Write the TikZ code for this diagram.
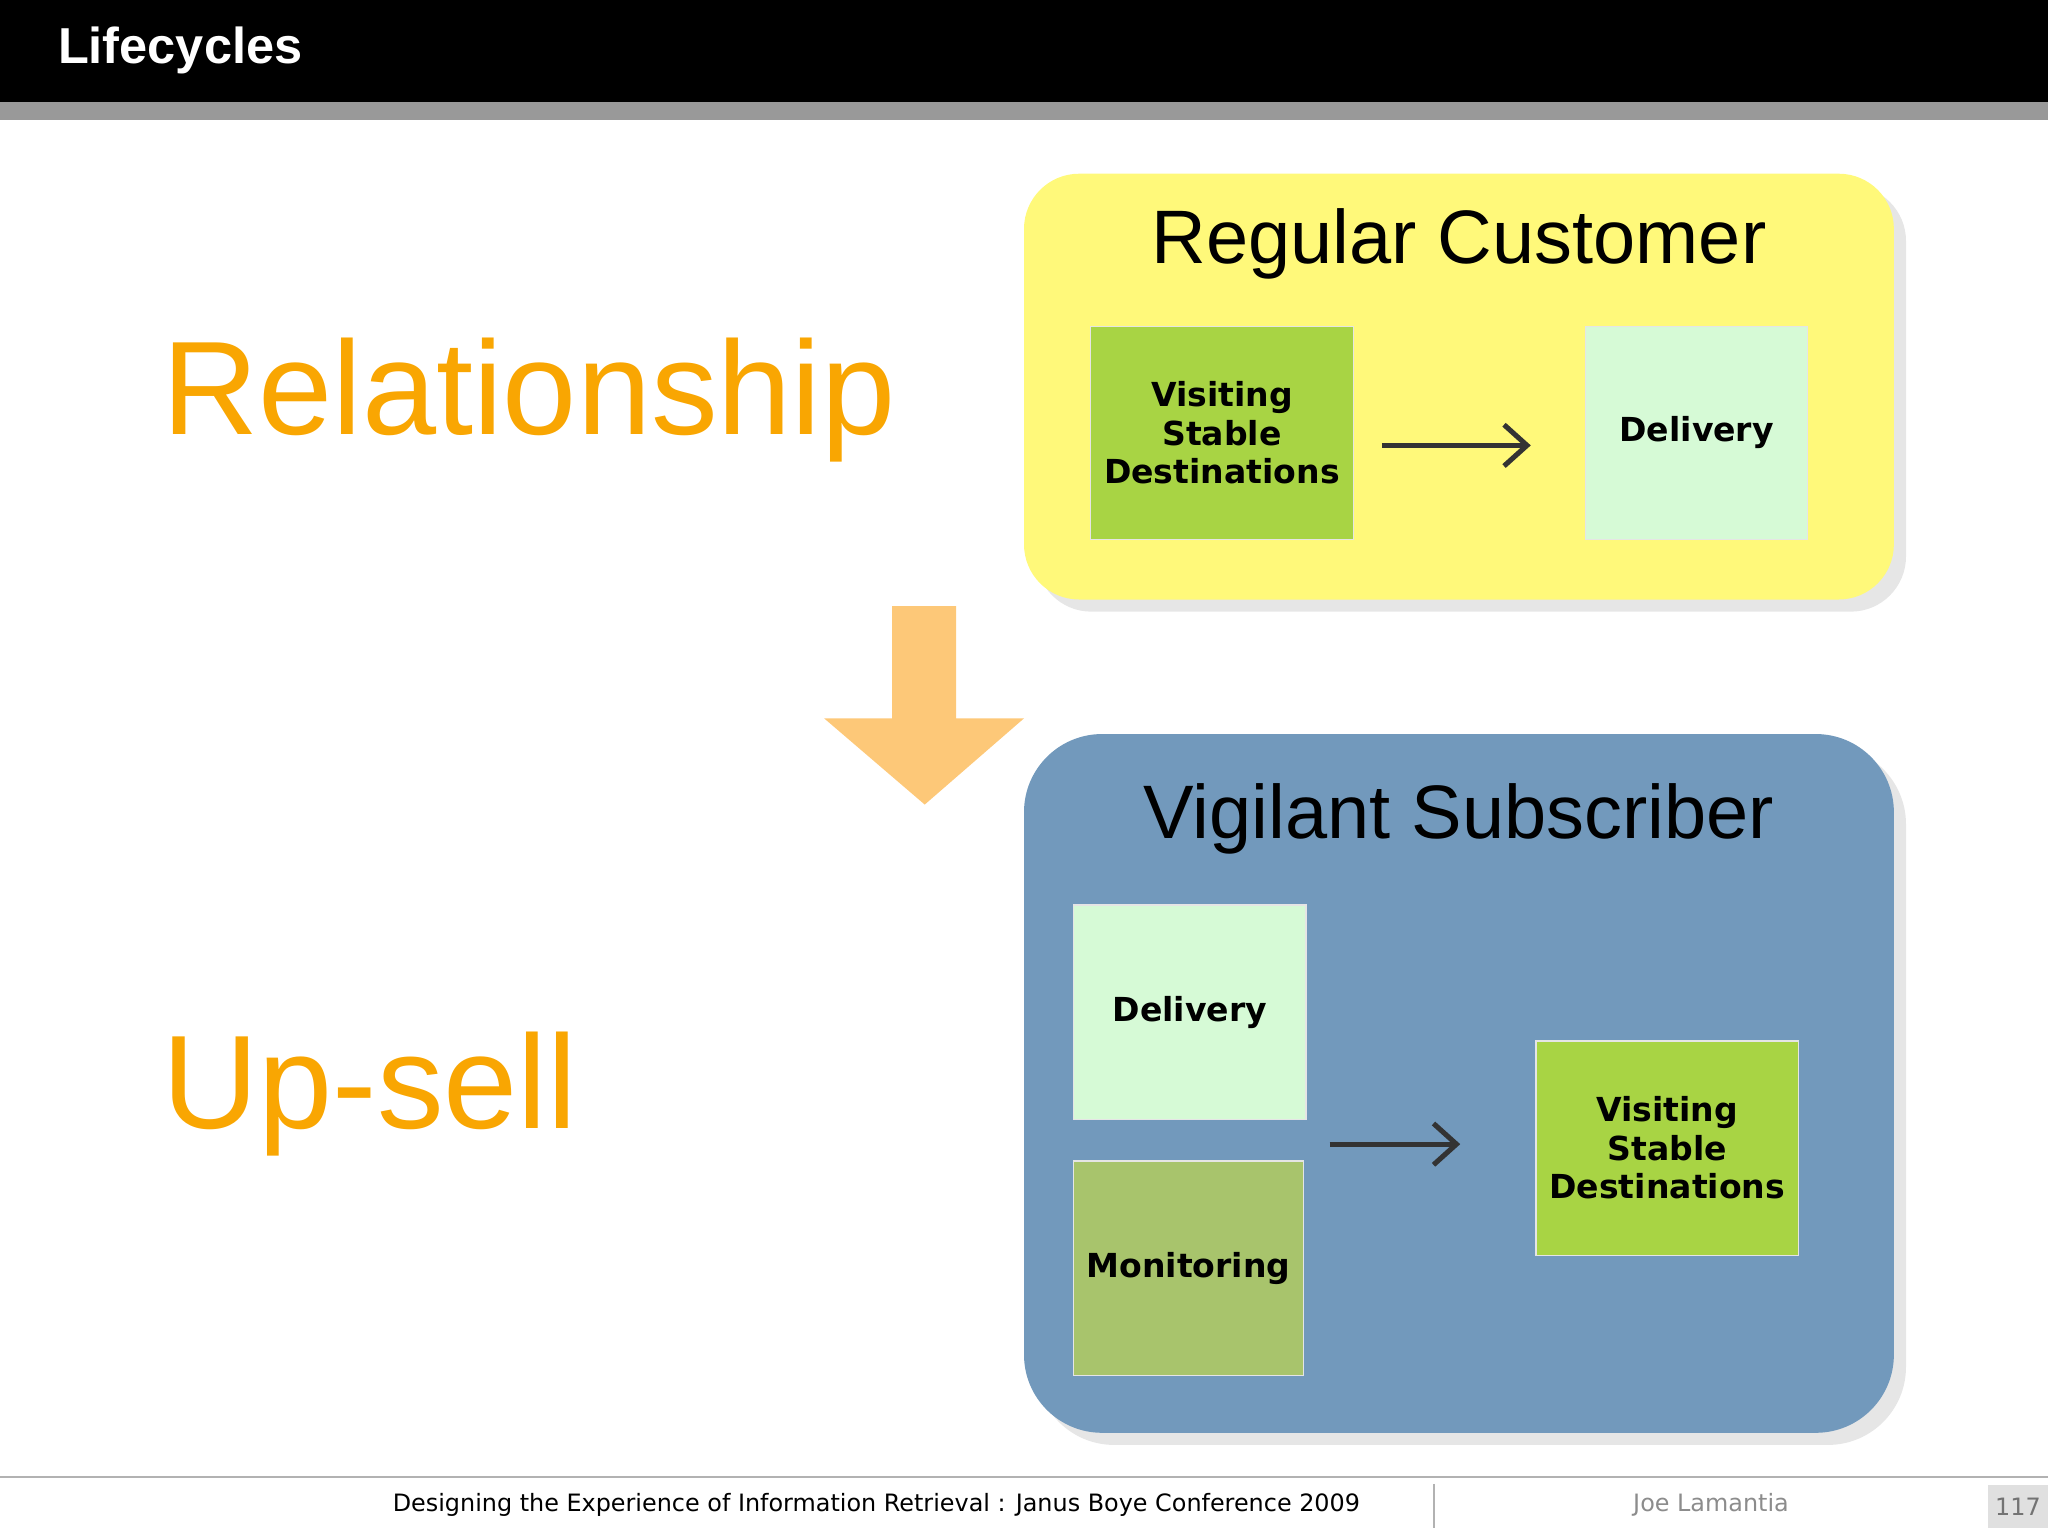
\documentclass[tikz,border=0pt]{standalone}
\usepackage{fontspec}
\setmainfont{Liberation Sans}
\newfontfamily\verd{DejaVu Sans}
\usetikzlibrary{shadows,arrows.meta}
\definecolor{yel}{HTML}{FFF97A}
\definecolor{grn}{HTML}{A8D444}
\definecolor{lgt}{HTML}{D6FAD6}
\definecolor{blu}{HTML}{7299BC}
\definecolor{mon}{HTML}{A8C46C}
\definecolor{org}{HTML}{F9A602}
\definecolor{arr}{HTML}{FDC878}
\begin{document}
\begin{tikzpicture}[x=0.01cm,y=-0.01cm,
  card/.style={draw=white!80!gray,line width=0.3pt,inner sep=0,font=\verd\bfseries\fontsize{7.2}{8.4}\selectfont,align=center},
  flow/.style={draw=black!80,line width=1.1pt,-{Straight Barb[length=5pt,width=9pt]}},
  big/.style={text=org,font=\fontsize{29}{33}\selectfont,anchor=base west},
  head/.style={font=\fontsize{16.5}{19}\selectfont}]
\useasboundingbox (0,0) rectangle (1568,1176);
\fill[black] (0,0) rectangle (1568,78);
\fill[black!40] (0,78) rectangle (1568,92);
\node[text=white,font=\bfseries\fontsize{11}{13}\selectfont,anchor=west] (title) at (32,39) {Lifecycles};
\node[big] (rel) at (112,333) {Relationship};
\node[big] (up) at (112,864) {Up-sell};
% yellow group
\fill[yel,drop shadow={opacity=0.2}] [rounded corners=12pt] (784,133) rectangle (1450,459);
\node[head] (rc) at (1117,187) {Regular Customer};
\node[card,fill=grn,minimum width=57.2pt,minimum height=46.4pt] (v1) at (935.5,331.5) {Visiting\\Stable\\Destinations};
\node[card,fill=lgt,minimum width=48.4pt,minimum height=46.4pt] (d1) at (1299,331.5) {Delivery};
\coordinate (a1s) at (1058,341); \coordinate (a1e) at (1172,341);
\draw[flow] (a1s) -- (a1e);
% orange arrow
\fill[arr] (683,464) -- (732,464) -- (732,550) -- (784,550) -- (708,616) -- (631,550) -- (683,550) -- cycle;
% blue group
\fill[blu,drop shadow={opacity=0.2}] [rounded corners=17pt] (784,562) rectangle (1450,1097);
\node[head] (vs) at (1117,627) {Vigilant Subscriber};
\node[card,fill=lgt,minimum width=50.6pt,minimum height=46.7pt] (d2) at (911,775) {Delivery};
\node[card,fill=mon,minimum width=50.1pt,minimum height=46.7pt] (m2) at (910,971) {Monitoring};
\node[card,fill=grn,minimum width=57.2pt,minimum height=46.7pt] (v2) at (1276.5,879) {Visiting\\Stable\\Destinations};
\coordinate (a2s) at (1018,876); \coordinate (a2e) at (1118,876);
\draw[flow] (a2s) -- (a2e);
% footer
\draw[black!30,line width=0.4pt] (0,1131) -- (1568,1131);
\draw[black!30,line width=0.4pt] (1098,1136) -- (1098,1170);
\fill[black!12] (1522,1137) rectangle (1568,1170);
\node[font=\verd\fontsize{5.2}{6}\selectfont] (ft) at (671,1152) {Designing the Experience of Information Retrieval : Janus Boye Conference 2009};
\node[font=\verd\fontsize{5.2}{6}\selectfont,text=black!45] (au) at (1310,1152) {Joe Lamantia};
\node[font=\verd\fontsize{5.2}{6}\selectfont,text=black!55] (pg) at (1545,1154) {117};
\end{tikzpicture}
\end{document}
